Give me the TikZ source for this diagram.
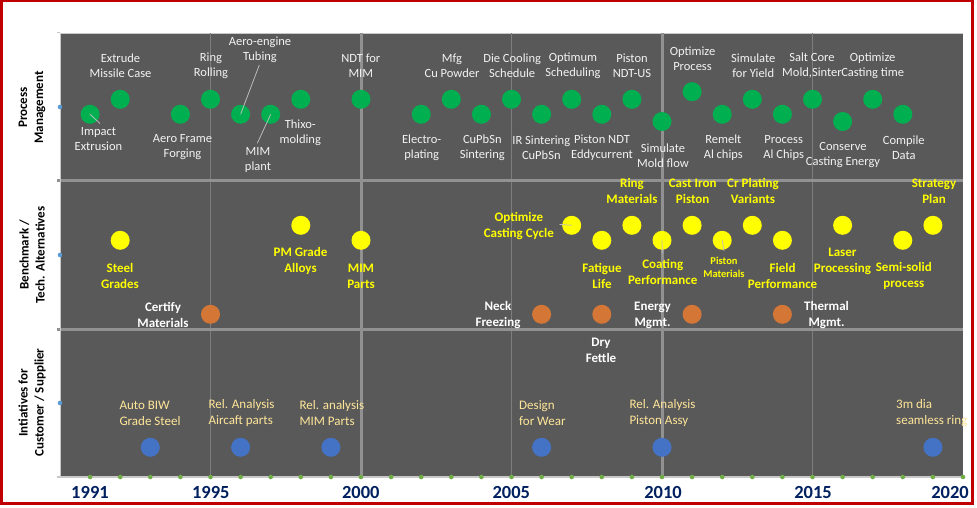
\documentclass[tikz,border=0pt]{standalone}
\usepackage{fontspec}
\setmainfont{Carlito}
\definecolor{plotbg}{RGB}{89,89,89}
\definecolor{gridthick}{RGB}{145,145,145}
\definecolor{gridthin}{RGB}{125,125,125}
\definecolor{axisline}{RGB}{200,200,200}
\definecolor{pmgreen}{RGB}{0,176,80}
\definecolor{bmyellow}{RGB}{255,255,0}
\definecolor{bmorange}{RGB}{212,118,54}
\definecolor{cublue}{RGB}{68,114,196}
\definecolor{axgreen}{RGB}{112,173,71}
\definecolor{axblue}{RGB}{91,155,213}
\definecolor{cream}{RGB}{255,230,153}
\definecolor{yearnavy}{RGB}{0,32,96}
\definecolor{framered}{RGB}{192,0,0}
\definecolor{labelw}{RGB}{242,242,242}
\definecolor{leadergray}{RGB}{191,191,191}
\tikzset{
  dotbase/.style={circle, inner sep=0pt, minimum size=19pt, draw=none},
  gdot/.style={dotbase, fill=pmgreen},
  ydot/.style={dotbase, fill=bmyellow},
  odot/.style={dotbase, fill=bmorange},
  bdot/.style={dotbase, fill=cublue},
  axdot/.style={circle, inner sep=0pt, minimum size=4.6pt, draw=none, fill=axgreen},
  aydot/.style={circle, inner sep=0pt, minimum size=4.6pt, draw=none, fill=axblue},
  pml/.style={text=labelw, font=\fontsize{12.5}{15}\selectfont, align=center, inner sep=0pt},
  bml/.style={text=bmyellow, font=\bfseries\fontsize{13}{16}\selectfont, align=center, inner sep=0pt},
  bmsmall/.style={text=bmyellow, font=\bfseries\fontsize{10.5}{12.7}\selectfont, align=center, inner sep=0pt},
  wl/.style={text=white, font=\bfseries\fontsize{13}{16}\selectfont, align=center, inner sep=0pt},
  cul/.style={text=cream, font=\fontsize{13}{16}\selectfont, align=left, inner sep=0pt, anchor=west},
  yearl/.style={text=yearnavy, font=\bfseries\fontsize{18.5}{22}\selectfont, inner sep=0pt},
  axisl/.style={text=black, font=\bfseries\fontsize{13}{16}\selectfont, align=center, inner sep=0pt, rotate=90},
  leaderline/.style={draw=leadergray, line width=0.75pt},
  thickgrid/.style={draw=gridthick, line width=3pt},
  thingrid/.style={draw=gridthin, line width=1pt},
}
\begin{document}
\begin{tikzpicture}[x=1pt,y=-1pt]
\useasboundingbox (0,0) rectangle (977,508);
\fill[white] (0,0) rectangle (977,508);
\begin{scope}
\clip (2.6,2.5) rectangle (971.2,502.2);
% plot area
\fill[plotbg] (60,33) rectangle (963,477);
\draw[draw=axisline, line width=0.8pt] (60,33) -- (963,33);
% vertical grid
\draw[thingrid] (210.5,33) -- (210.5,477);
\draw[thickgrid] (361,33) -- (361,477);
\draw[thingrid] (511.5,33) -- (511.5,477);
\draw[thickgrid] (662,33) -- (662,477);
\draw[thingrid] (812.5,33) -- (812.5,477);
% horizontal separators
\draw[thickgrid] (57,180.5) -- (963,180.5);
\draw[thickgrid] (57,329) -- (963,329);
% axes
\draw[draw=axisline, line width=1pt] (60,33) -- (60,477);
\draw[draw=axisline, line width=1.4pt] (57,477) -- (963,477);
\draw[draw=axisline, line width=1pt] (57,33) -- (60,33);
% small axis dots
\foreach \i in {1,...,30} {
  \node[axdot] (ax\i) at ({60+\i*30.1},477) {};
}
\node[aydot] (ay1) at (60,107) {};
\node[aydot] (ay2) at (60,255) {};
\node[aydot] (ay3) at (60,403) {};

% axis titles
\node[axisl] (t1) at (32,107.5) {Process\\Management};
\node[axisl] (t2) at (32,255) {Benchmark /\\Tech. Alternatives};
\node[axisl] (t3) at (32,402.5) {Intiatives for\\Customer / Supplier};

% year labels
\node[yearl] (yr1991) at (90,492.5) {1991};
\node[yearl] (yr1995) at (210.8,492.5) {1995};
\node[yearl] (yr2000) at (360.8,492.5) {2000};
\node[yearl] (yr2005) at (511.3,492.5) {2005};
\node[yearl] (yr2010) at (663,492.5) {2010};
\node[yearl] (yr2015) at (813,492.5) {2015};
\node[yearl] (yr2020) at (950,492.5) {2020};

% ---------- Process Management ----------
\node[gdot] (g1) at (90.1,114.3) {};
\node[gdot] (g2) at (120.2,99.3) {};
\node[gdot] (g3) at (180.4,114.3) {};
\node[gdot] (g4) at (210.5,99.3) {};
\node[gdot] (g5) at (240.6,114.3) {};
\node[gdot] (g6) at (270.7,114.3) {};
\node[gdot] (g7) at (300.8,99.3) {};
\node[gdot] (g8) at (361,99.3) {};
\node[gdot] (g9) at (421.2,114.3) {};
\node[gdot] (g10) at (451.3,99.3) {};
\node[gdot] (g11) at (481.4,114.3) {};
\node[gdot] (g12) at (511.5,99.3) {};
\node[gdot] (g13) at (541.6,114.3) {};
\node[gdot] (g14) at (571.7,99.3) {};
\node[gdot] (g15) at (601.8,114.3) {};
\node[gdot] (g16) at (631.9,99.3) {};
\node[gdot] (g17) at (662,121.5) {};
\node[gdot] (g18) at (692.1,91.7) {};
\node[gdot] (g19) at (722.2,114.3) {};
\node[gdot] (g20) at (752.3,99.3) {};
\node[gdot] (g21) at (782.4,114.3) {};
\node[gdot] (g22) at (812.5,99.3) {};
\node[gdot] (g23) at (842.6,121.5) {};
\node[gdot] (g24) at (872.7,99.3) {};
\node[gdot] (g25) at (902.8,114.3) {};

\coordinate (c1) at (100,123.5);
\coordinate (c5) at (259.3,65);
\coordinate (c6) at (257.3,143.3);
\draw[leaderline] (g1.center) -- (c1);
\draw[leaderline] (g5.center) -- (c5);
\draw[leaderline] (g6.center) -- (c6);

\node[pml] (p1) at (98.5,139.5) {Impact\\Extrusion};
\node[pml] (p2) at (120.5,65.5) {Extrude\\Missile Case};
\node[pml] (p3) at (182.5,147.5) {Aero Frame\\Forging};
\node[pml] (p4) at (211,65.5) {Ring\\Rolling};
\node[pml] (p5) at (260,49.5) {Aero-engine\\Tubing};
\node[pml] (p6) at (258,159.5) {MIM\\plant};
\node[pml] (p7) at (300.3,132.5) {Thixo-\\molding};
\node[pml] (p8) at (360.8,65.5) {NDT for\\MIM};
\node[pml] (p9) at (421.7,147.5) {Electro-\\plating};
\node[pml] (p10) at (452,65.5) {Mfg\\Cu Powder};
\node[pml] (p11) at (482.3,147.5) {CuPbSn\\Sintering};
\node[pml] (p12) at (512.2,65.5) {Die Cooling\\Schedule};
\node[pml] (p13) at (541.3,147.5) {IR Sintering\\CuPbSn};
\node[pml] (p14) at (573,65.5) {Optimum\\Scheduling};
\node[pml] (p15) at (602,147.5) {Piston NDT\\Eddycurrent};
\node[pml] (p16) at (632,65.5) {Piston\\NDT-US};
\node[pml] (p17) at (663,155.5) {Simulate\\Mold flow};
\node[pml] (p18) at (692.5,59) {Optimize\\Process};
\node[pml] (p19) at (723.3,147.5) {Remelt\\Al chips};
\node[pml] (p20) at (753.3,65.5) {Simulate\\for Yield};
\node[pml] (p21) at (783.7,147.5) {Process\\Al Chips};
\node[pml] (p22) at (812,65.5) {Salt Core\\Mold,Sinter};
\node[pml] (p23) at (843,155.5) {Conserve\\Casting Energy};
\node[pml] (p24) at (872.7,65.5) {Optimize\\Casting time};
\node[pml] (p25) at (903.8,147.5) {Compile\\Data};

% ---------- Benchmark ----------
\node[ydot] (y1) at (120.2,240.3) {};
\node[ydot] (y2) at (300.8,225.3) {};
\node[ydot] (y3) at (361,240.3) {};
\node[ydot] (y4) at (571.7,225.3) {};
\node[ydot] (y5) at (601.8,240.3) {};
\node[ydot] (y6) at (631.9,225.3) {};
\node[ydot] (y7) at (662,240.3) {};
\node[ydot] (y8) at (692.1,225.3) {};
\node[ydot] (y9) at (722.2,240.3) {};
\node[ydot] (y10) at (752.3,225.3) {};
\node[ydot] (y11) at (782.4,240.3) {};
\node[ydot] (y12) at (842.6,225.3) {};
\node[ydot] (y13) at (902.8,240.3) {};
\node[ydot] (y14) at (932.9,225.3) {};

\coordinate (c4) at (559.3,224.3);
\coordinate (c7) at (662.3,253.3);
\coordinate (c9) at (724,251);
\draw[leaderline] (y4.center) -- (c4);
\draw[leaderline] (y7.center) -- (c7);
\draw[leaderline] (y9.center) -- (c9);

\node[bml] (b1) at (120,276) {Steel\\Grades};
\node[bml] (b2) at (300.5,261) {PM Grade\\Alloys};
\node[bml] (b3) at (361,276) {MIM\\Parts};
\node[bml] (b4) at (518.8,226) {Optimize\\Casting Cycle};
\node[bml] (b5) at (602,276) {Fatigue\\Life};
\node[bml] (b6) at (632,191) {Ring\\Materials};
\node[bml] (b7) at (662.7,272) {Coating\\Performance};
\node[bml] (b8) at (692.7,191) {Cast Iron\\Piston};
\node[bmsmall] (b9) at (724,267.5) {Piston\\Materials};
\node[bml] (b10) at (753,191) {Cr Plating\\Variants};
\node[bml] (b11) at (782.6,276) {Field\\Performance};
\node[bml] (b12) at (842.4,261) {Laser\\Processing};
\node[bml] (b13) at (903.8,276) {Semi-solid\\process};
\node[bml] (b14) at (934,191) {Strategy\\Plan};

\node[odot] (o1) at (210.5,314.3) {};
\node[odot] (o2) at (541.6,314.3) {};
\node[odot] (o3) at (601.8,314.3) {};
\node[odot] (o4) at (692.1,314.3) {};
\node[odot] (o5) at (782.4,314.3) {};

\node[wl] (w1) at (163,315) {Certify\\Materials};
\node[wl] (w2) at (498,315) {Neck\\Freezing};
\node[wl] (w3) at (601,350) {Dry\\Fettle};
\node[wl] (w4) at (652.5,315) {Energy\\Mgmt.};
\node[wl] (w5) at (826.5,315) {Thermal\\Mgmt.};

% ---------- Customer / Supplier ----------
\node[bdot] (u1) at (150.3,447.3) {};
\node[bdot] (u2) at (240.6,447.3) {};
\node[bdot] (u3) at (330.9,447.3) {};
\node[bdot] (u4) at (541.6,447.3) {};
\node[bdot] (u5) at (662,447.3) {};
\node[bdot] (u6) at (932.9,447.3) {};

\node[cul] (k1) at (119.3,413) {Auto BIW\\Grade Steel};
\node[cul] (k2) at (208.3,413) {Rel. Analysis\\Aircaft parts};
\node[cul] (k3) at (299.3,413) {Rel. analysis\\MIM Parts};
\node[cul] (k4) at (519,413) {Design\\for Wear};
\node[cul] (k5) at (629.3,413) {Rel. Analysis\\Piston Assy};
\node[cul] (k6) at (896,413) {3m dia\\seamless ring};
\end{scope}
\draw[draw=framered, line width=2.6pt] (1.3,1.2) rectangle (972.5,503.5);
\end{tikzpicture}
\end{document}
